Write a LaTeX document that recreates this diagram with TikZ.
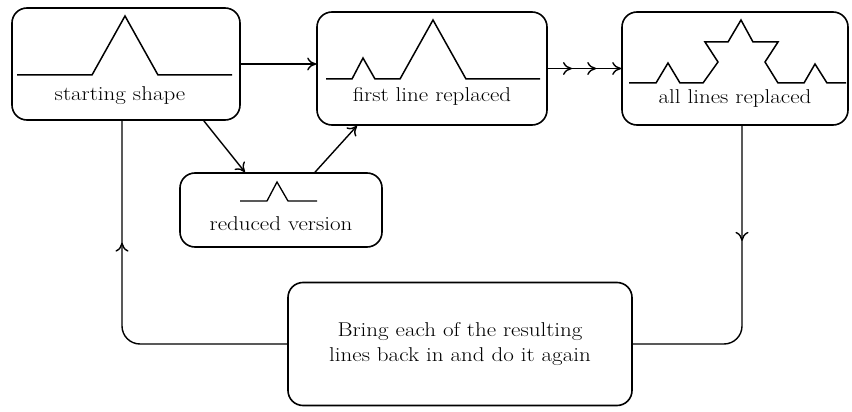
\documentclass[tikz,border=0pt]{standalone}
\usepackage{fontspec}
\setmainfont{Latin Modern Roman}[FakeStretch=1.15]
\usetikzlibrary{arrows.meta,decorations.markings}
\tikzset{
  box/.style={draw,line width=1.6pt,rounded corners=15pt,inner sep=0pt},
  lbl/.style={inner sep=1pt,font=\fontsize{20}{25}\selectfont,align=center},
  curve/.style={line width=1.5pt,line join=miter},
  tip/.tip={To[length=9pt,width=13pt,line width=1.4pt]},
  conn/.style={line width=1.4pt,-tip},
  loop/.style={line width=1.4pt,rounded corners=18pt},
  midtip/.style={postaction={decorate},decoration={markings,
      mark=at position #1 with {\arrow{tip}}}},
  midback/.style={postaction={decorate},decoration={markings,
      mark=at position #1 with {\arrowreversed{tip}}}}
}
\begin{document}
\begin{tikzpicture}[x=1pt,y=-1pt]
  \useasboundingbox (0,0) rectangle (852,412);
  % boxes
  \node[box,minimum width=228,minimum height=112] (start) at (126,64) {};
  \node[box,minimum width=230,minimum height=113] (first) at (432,68.5) {};
  \node[box,minimum width=226,minimum height=113] (all) at (735,68.5) {};
  \node[box,minimum width=202,minimum height=74] (reduced) at (281,210) {};
  \node[box,minimum width=344,minimum height=123,lbl] (again) at (460,344)
    {Bring each of the resulting\\lines back in and do it again};
  % labels
  \node[lbl] (starttext) at (120,96) {starting shape};
  \node[lbl] (firsttext) at (432,96) {first line replaced};
  \node[lbl] (alltext) at (735,99) {all lines replaced};
  \node[lbl] (reducedtext) at (281,224) {reduced version};
  % shapes
  \draw[curve] (17,75) -- (92,75) -- (125,16) -- (158,75) -- (232,75);
  \draw[curve] (326,79) -- (352,79) -- (363,58) -- (375,79) -- (400,79)
    -- (433,20) -- (466,79) -- (540,79);
  \draw[curve] (629,83) -- (656,83) -- (668,63) -- (680,83) -- (703,83)
    -- (718,62) -- (705,42) -- (728,42) -- (741,20) -- (753,42) -- (778,42)
    -- (765,62) -- (778,83) -- (804,83) -- (815,64) -- (827,83) -- (846,83);
  \draw[curve,line width=1.3pt] (240,201) -- (267,201) -- (277,182)
    -- (288,201) -- (317,201);
  % connectors
  \draw[conn] (start.east) -- (start.east -| first.west);
  \draw[line width=1.4pt,decoration={markings,
      mark=at position 0.33 with {\arrow{tip}},
      mark=at position 0.66 with {\arrow{tip}},
      mark=at position 1 with {\arrow{tip}}},
      postaction={decorate}] (first.east) -- (first.east -| all.west);
  \draw[conn] ([xshift=-37]start.south east) -- ([xshift=-36]reduced.north);
  \draw[conn] ([xshift=34]reduced.north) -- ([xshift=-75]first.south);
  \draw[loop,midback=0.32] ([xshift=-4]start.south) |- (again.west);
  \draw[loop,midtip=0.36] ([xshift=7]all.south) |- (again.east);
\end{tikzpicture}
\end{document}
